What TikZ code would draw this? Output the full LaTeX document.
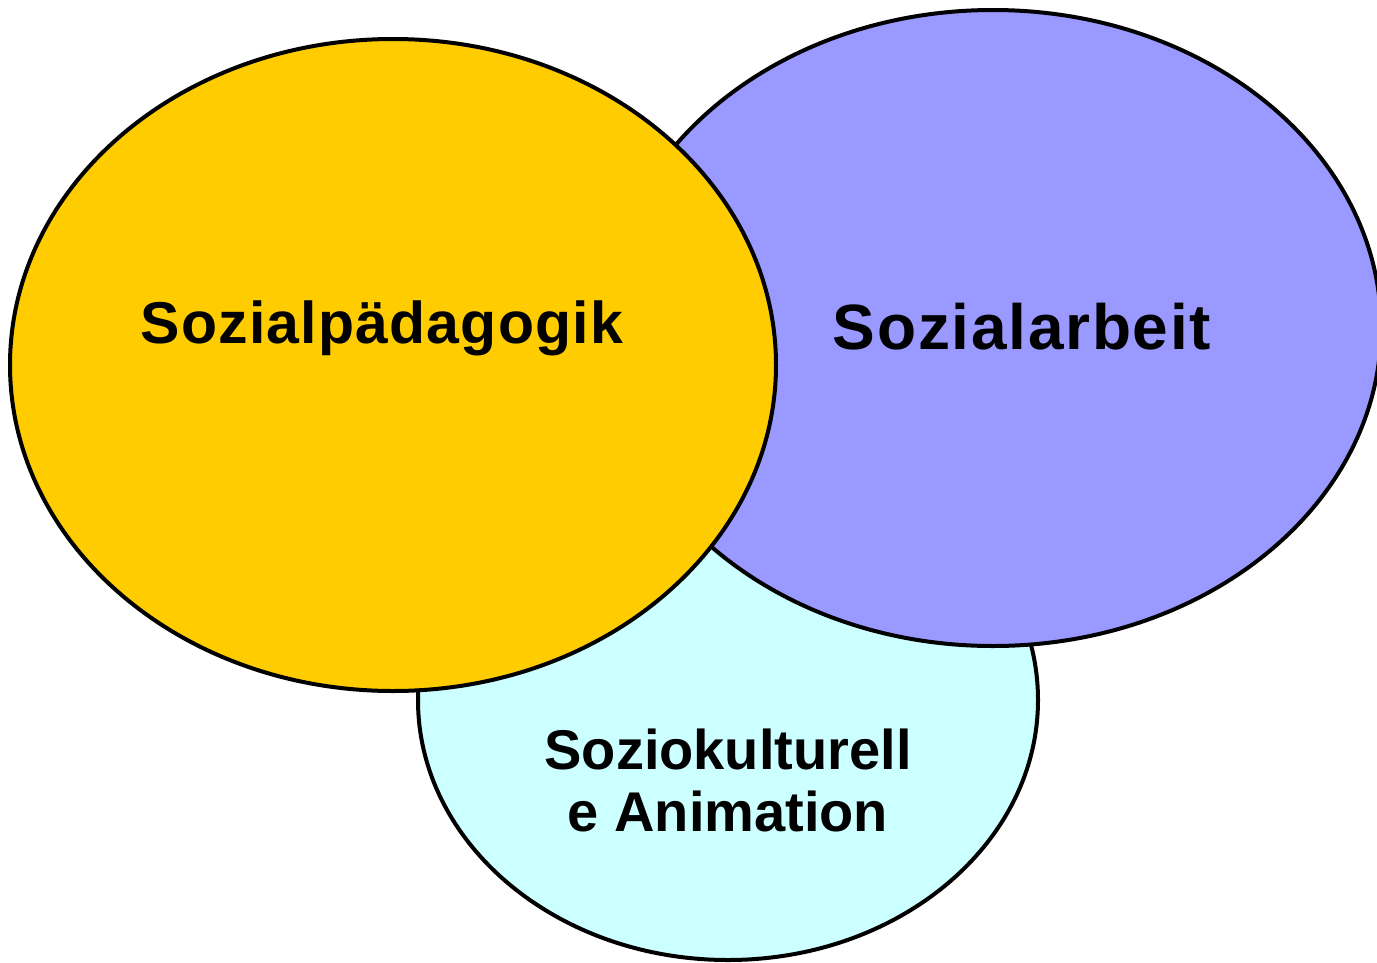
\documentclass[tikz,border=0pt]{standalone}
\usepackage{fontspec}
\setmainfont{Liberation Sans}
\definecolor{ygold}{RGB}{255,204,0}
\definecolor{lav}{RGB}{153,153,255}
\definecolor{lcyan}{RGB}{204,255,255}
\begin{document}
\begin{tikzpicture}[x=1pt,y=-1pt,
  blob/.style={draw=black,line width=4pt},
  lbl/.style={text=black,align=center}]
\useasboundingbox (0,0) rectangle (1377,962);
\fill[white] (0,0) rectangle (1377,962);
\draw[blob,fill=lcyan] (728,700) ellipse [x radius=310,y radius=260];
\draw[blob,fill=lav] (993,328) ellipse [x radius=388,y radius=318];
\draw[blob,fill=ygold] (393,365) ellipse [x radius=383,y radius=326];
\node[lbl,font=\bfseries\fontsize{59}{62}\selectfont\addfontfeature{LetterSpace=2}] (sp) at (382,328) {Sozialpädagogik};
\node[lbl,font=\bfseries\fontsize{64}{66}\selectfont\addfontfeature{LetterSpace=2.7}] (sa) at (1022,327) {Sozialarbeit};
\node[lbl,font=\bfseries\fontsize{56}{62}\selectfont] (sk) at (728,780) {Soziokulturell\\e Animation};
\end{tikzpicture}
\end{document}
